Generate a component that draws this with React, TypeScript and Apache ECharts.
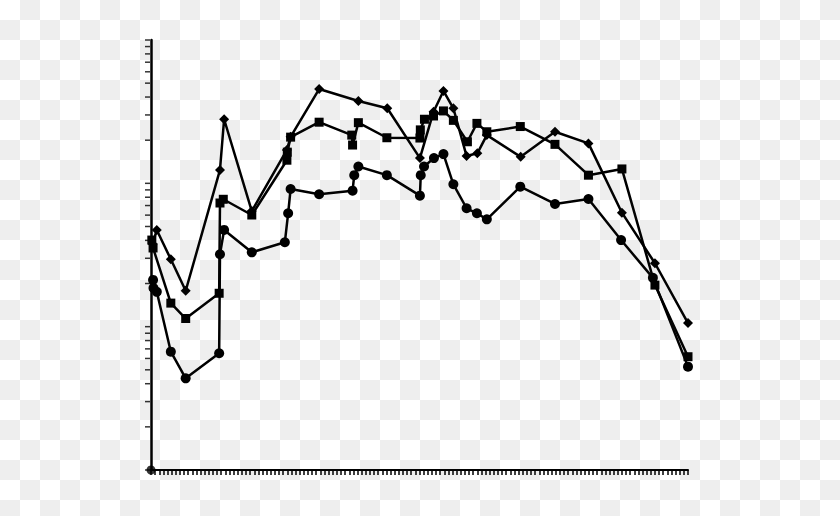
import { useEffect, useRef } from "react";
import * as echarts from "echarts";

// x = day index, y = measured value (log axis, 1 .. 1000)
const circleX = [0.5, 0.6, 1.4, 4.8, 8.4, 16.5, 16.7, 17.7, 24.4, 32.4, 33.2, 33.8, 40.7, 48.8, 49.2, 50.2, 57.1, 65.1, 65.3, 66.1, 68.5, 70.8, 73.2, 76.4, 78.9, 81.3, 89.4, 97.8, 105.9, 113.8, 121.5, 130];
const circleY = [21.2, 18.6, 17.5, 6.69, 4.36, 6.52, 32.0, 47.3, 33.0, 38.8, 61.8, 91.3, 83.9, 88.9, 114, 131, 114, 82.0, 114, 131, 150, 160, 98.5, 67.0, 61.8, 56.1, 94.8, 71.8, 77.8, 40.2, 21.9, 5.26];

const squareX = [0.2, 0.5, 4.8, 8.4, 16.5, 16.7, 17.5, 24.4, 32.9, 33.0, 33.8, 40.7, 48.6, 48.8, 50.2, 57.1, 65.1, 65.2, 66.2, 68.4, 70.8, 73.2, 76.6, 78.9, 81.3, 89.4, 97.8, 105.9, 114, 122, 130];
const squareY = [40.2, 35.4, 14.6, 11.4, 17.1, 72.9, 77.4, 60.1, 145, 165, 210, 267, 217, 185, 265, 208, 207, 236, 280, 295, 320, 275, 195, 262, 229, 249, 187, 114, 126, 19.5, 6.17];

const diamondX = [0.4, 1.4, 4.8, 8.4, 16.7, 17.7, 24.4, 32.9, 33.8, 40.7, 50.2, 57.2, 65.1, 68.4, 70.8, 73.2, 76.4, 79, 81.3, 89.5, 97.8, 105.9, 114, 122, 130];
const diamondY = [37.8, 47.3, 29.5, 17.8, 124, 280, 64.1, 171, 211, 455, 375, 334, 150, 316, 441, 334, 155, 162, 217, 153, 229, 190, 62.4, 27.7, 10.6];

// ticks of the log y axis
const yTicks = [
  1, 2, 3, 4, 5, 6, 7, 8, 9,
  10, 20, 30, 40, 50, 60, 70, 80, 90,
  100, 200, 300, 400, 500, 600, 700, 800, 900, 1000,
];

const zip = (xs: number[], ys: number[]) => xs.map((x, i) => [x, ys[i]]);

// grey squares of the "transparent" checkerboard background
function checkerRects(w: number, h: number, cell: number) {
  const out: any[] = [];
  for (let r = 0; r * cell < h; r++) {
    for (let c = 0; c * cell < w; c++) {
      if ((r + c) % 2 === 1) {
        out.push({
          type: "rect",
          shape: { x: c * cell, y: r * cell, width: cell, height: cell },
          style: { fill: "#eeeeee" },
          silent: true,
        });
      }
    }
  }
  return out;
}

export default function App() {
  const chartRef = useRef<HTMLDivElement>(null);

  useEffect(() => {
    if (!chartRef.current) return;
    const chart = echarts.init(chartRef.current, undefined, { renderer: "svg" });

    const lineSeries = (name: string, data: number[][], symbol: string, size: number) => ({
      name,
      type: "line",
      data,
      symbol,
      symbolSize: size,
      showAllSymbol: true,
      clip: false,
      itemStyle: { color: "#000" },
      lineStyle: { color: "#000", width: 2.5 },
      emphasis: { disabled: true },
    });

    chart.setOption({
      animation: false,
      backgroundColor: "#ffffff",
      graphic: [
        {
          type: "group",
          z: -10,
          silent: true,
          children: checkerRects(840, 516, 20),
        },
      ],
      grid: { left: 151, right: 152, top: 40, bottom: 46 },
      xAxis: {
        type: "value",
        min: 0,
        max: 130,
        interval: 1,
        axisLine: { lineStyle: { color: "#000", width: 2 } },
        axisTick: { length: 5, lineStyle: { color: "#000", width: 1.5 } },
        axisLabel: { show: false },
        splitLine: { show: false },
      },
      yAxis: {
        type: "log",
        logBase: 10,
        min: 1,
        max: 1000,
        axisLine: { show: true, lineStyle: { color: "#000", width: 2.5 } },
        axisTick: { show: false },
        axisLabel: { show: false },
        splitLine: { show: false },
      },
      series: [
        {
          type: "scatter",
          data: yTicks.map((v) => [0, v]),
          symbol: "rect",
          symbolSize: [5, 1.5],
          symbolOffset: [-3.5, 0],
          clip: false,
          itemStyle: { color: "#000" },
          silent: true,
        },
        {
          type: "scatter",
          data: [[0, 1]],
          symbol: "circle",
          symbolSize: 9,
          clip: false,
          itemStyle: { color: "#000" },
          silent: true,
        },
        lineSeries("circle", zip(circleX, circleY), "circle", 10),
        lineSeries("square", zip(squareX, squareY), "rect", 9),
        lineSeries("diamond", zip(diamondX, diamondY), "diamond", 10),
      ],
    });

    return () => chart.dispose();
  }, []);

  return (
    <div style={{ position: "fixed", left: 0, top: 0, width: 840, height: 516 }}>
      <div ref={chartRef} style={{ width: 840, height: 516 }} />
    </div>
  );
}
